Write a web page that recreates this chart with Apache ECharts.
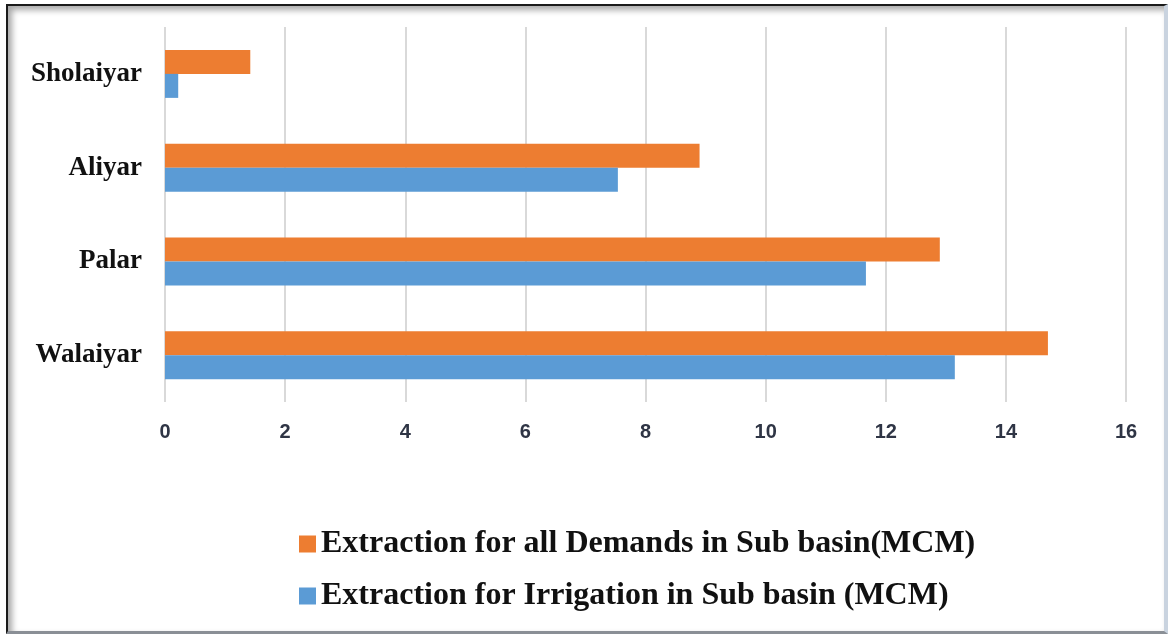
<!DOCTYPE html>
<html>
<head>
<meta charset="utf-8">
<script src="https://cdn.jsdelivr.net/npm/echarts@6/dist/echarts.min.js"></script>
<style>
  html, body { margin: 0; padding: 0; background: #fff; }
  #frame {
    position: absolute; left: 6px; top: 4px; width: 1162px; height: 630px;
    border-top: 2px solid #1a1a1a; border-left: 2px solid #1a1a1a;
    border-right: 4px solid #c9d3df; border-bottom: 3px solid #8a8f96;
    box-shadow: inset 4px 4px 6px rgba(0,0,0,0.35);
    box-sizing: border-box;
  }
  #chart { position: absolute; left: 0; top: 0; width: 1174px; height: 639px; }
</style>
</head>
<body>
<div id="frame"></div>
<div id="chart"></div>
<script>
// sub basins, bottom to top
const basins = ['Walaiyar', 'Palar', 'Aliyar', 'Sholaiyar']
const allDemands = [14.7, 12.9, 8.9, 1.42]
const irrigation = [13.15, 11.67, 7.54, 0.22]
const nameAll = 'Extraction for all Demands in Sub basin(MCM)'
const nameIrr = 'Extraction for Irrigation in Sub basin (MCM)'

const chart = echarts.init(document.getElementById('chart'))
chart.setOption({
  animation: false,
  grid: { left: 165, right: 48, top: 27, bottom: 237 },
  legend: {
    data: [nameAll, nameIrr],
    orient: 'vertical',
    left: 294,
    top: 523,
    itemGap: 20,
    itemWidth: 17,
    itemHeight: 17,
    icon: 'rect',
    textStyle: { fontFamily: 'Liberation Serif', fontWeight: 'bold', fontSize: 32, color: '#111' }
  },
  xAxis: {
    type: 'value',
    min: 0,
    max: 16,
    interval: 2,
    axisLine: { show: false },
    axisTick: { show: false },
    splitLine: { lineStyle: { color: '#d9d9d9', width: 2 } },
    axisLabel: { margin: 20, color: '#2f3545', fontSize: 20, fontWeight: 'bold', fontFamily: 'Liberation Sans' }
  },
  yAxis: {
    type: 'category',
    data: basins,
    axisLine: { show: false },
    axisTick: { show: false },
    axisLabel: { margin: 23, color: '#111', fontSize: 27, fontWeight: 'bold', fontFamily: 'Liberation Serif' }
  },
  series: [
    {
      name: nameAll,
      type: 'bar',
      data: allDemands,
      barWidth: 24,
      barGap: '0%',
      itemStyle: { color: '#ed7d31' }
    },
    {
      name: nameIrr,
      type: 'bar',
      data: irrigation,
      barWidth: 24,
      barGap: '0%',
      itemStyle: { color: '#5b9bd5' }
    }
  ]
})
</script>
</body>
</html>
